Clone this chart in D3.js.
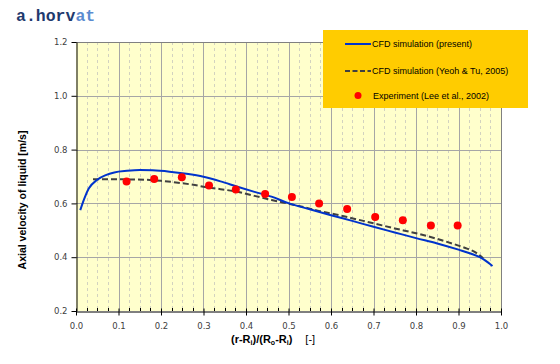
<!DOCTYPE html>
<html><head><meta charset="utf-8">
<script src="https://cdn.jsdelivr.net/npm/d3@7"></script>
<style>body{margin:0;background:#fff}svg{display:block}</style>
</head><body><svg id="c" width="560" height="364"></svg>
<script>
// ---- data ----
const presentX = [0.01,0.02,0.03,0.05,0.07,0.09,0.12,0.15,0.18,0.22,0.26,0.30,0.34,0.38,0.42,0.46,0.50,0.55,0.60,0.65,0.70,0.75,0.80,0.85,0.90,0.93,0.95,0.97,0.98];
const presentY = [0.575,0.620,0.655,0.688,0.705,0.715,0.721,0.724,0.723,0.718,0.710,0.699,0.682,0.662,0.643,0.625,0.601,0.578,0.556,0.535,0.513,0.492,0.471,0.451,0.428,0.413,0.400,0.380,0.367];
const yeohX = [0.04,0.08,0.12,0.16,0.20,0.24,0.28,0.30,0.34,0.38,0.42,0.46,0.50,0.54,0.574,0.62,0.66,0.70,0.75,0.80,0.85,0.90,0.92,0.94,0.958];
const yeohY = [0.690,0.690,0.689,0.688,0.684,0.677,0.668,0.662,0.653,0.643,0.628,0.613,0.599,0.585,0.571,0.556,0.541,0.526,0.507,0.489,0.468,0.443,0.432,0.418,0.396];
const expX = [0.119,0.184,0.249,0.313,0.376,0.445,0.508,0.572,0.638,0.704,0.769,0.835,0.898];
const expY = [0.681,0.691,0.697,0.667,0.652,0.635,0.624,0.600,0.579,0.549,0.537,0.518,0.518];
const xTicks = [0,0.1,0.2,0.3,0.4,0.5,0.6,0.7,0.8,0.9,1.0];
const yTicks = [0.2,0.4,0.6,0.8,1.0,1.2];
const legendLabels = ["CFD simulation (present)","CFD simulation (Yeoh & Tu, 2005)","Experiment (Lee et al., 2002)"];

const svg = d3.select("#c");
const L=76,R=501,T=42,B=311;
const x = d3.scaleLinear().domain([0,1]).range([L,R]);
const y = d3.scaleLinear().domain([0.2,1.2]).range([B,T]);

svg.append("rect").attr("x",L).attr("y",T).attr("width",R-L).attr("height",B-T).attr("fill","#FFFFCC");

// minor vertical grid (dashed)
const minor = d3.range(1,40).map(i=>i*0.025).filter(v=>Math.abs(v*10-Math.round(v*10))>1e-6);
svg.append("g").selectAll("line").data(minor).join("line")
  .attr("x1",d=>Math.round(x(d))+0.5).attr("x2",d=>Math.round(x(d))+0.5).attr("y1",T).attr("y2",B)
  .attr("stroke","#D2D2C0").attr("stroke-dasharray","3,3");
// major vertical grid
svg.append("g").selectAll("line").data(xTicks.slice(1,-1)).join("line")
  .attr("x1",d=>Math.round(x(d))+0.5).attr("x2",d=>Math.round(x(d))+0.5).attr("y1",T).attr("y2",B)
  .attr("stroke","#A6A6A6");
// horizontal grid
svg.append("g").selectAll("line").data(yTicks.slice(1,-1)).join("line")
  .attr("x1",L).attr("x2",R).attr("y1",d=>Math.round(y(d))+0.5).attr("y2",d=>Math.round(y(d))+0.5)
  .attr("stroke","#A6A6A6");
// top/right border
svg.append("line").attr("x1",L).attr("x2",R).attr("y1",T+0.5).attr("y2",T+0.5).attr("stroke","#808080");
svg.append("line").attr("x1",R+0.5).attr("x2",R+0.5).attr("y1",T).attr("y2",B).attr("stroke","#808080");

// axes
const xa = svg.append("g").attr("transform",`translate(0,${B+0.5})`)
  .call(d3.axisBottom(x).tickValues(xTicks).tickFormat(d3.format(".1f")).tickSize(4).tickSizeOuter(0));
xa.select(".domain").attr("stroke","#000");
xa.selectAll(".tick line").attr("y1",-3).attr("stroke","#000");
xa.selectAll("text").attr("font-family","DejaVu Sans").attr("font-size","8.5px").attr("fill","#404040").attr("dy","1.2em");
svg.append("g").selectAll("line").data(minor).join("line")
  .attr("x1",d=>Math.round(x(d))+0.5).attr("x2",d=>Math.round(x(d))+0.5).attr("y1",B-3).attr("y2",B)
  .attr("stroke","#000");

const ya = svg.append("g").attr("transform",`translate(${L+0.5},0)`)
  .call(d3.axisLeft(y).tickValues(yTicks).tickFormat(d3.format(".1f")).tickSize(5).tickSizeOuter(0));
ya.select(".domain").attr("stroke","#000");
ya.selectAll(".tick line").attr("stroke","#000");
ya.selectAll("text").attr("font-family","DejaVu Sans").attr("font-size","8.5px").attr("fill","#404040").attr("x",-9);

// series
const line = d3.line().x(d=>x(d[0])).y(d=>y(d[1])).curve(d3.curveMonotoneX);
svg.append("path").datum(yeohX.map((v,i)=>[v,yeohY[i]])).attr("d",line)
  .attr("fill","none").attr("stroke","#404040").attr("stroke-width",2).attr("stroke-dasharray","6,3");
svg.append("path").datum(presentX.map((v,i)=>[v,presentY[i]])).attr("d",line)
  .attr("fill","none").attr("stroke","#0033CC").attr("stroke-width",2);
svg.append("g").selectAll("circle").data(expX.map((v,i)=>[v,expY[i]])).join("circle")
  .attr("cx",d=>x(d[0])).attr("cy",d=>y(d[1])).attr("r",4).attr("fill","#FF0000");

// legend
const lg = svg.append("g");
lg.append("rect").attr("x",323).attr("y",30).attr("width",205).attr("height",78).attr("fill","#FFCC00");
const ly=[44,71,95.5];
lg.append("line").attr("x1",345).attr("x2",371).attr("y1",ly[0]).attr("y2",ly[0]).attr("stroke","#0033CC").attr("stroke-width",2);
lg.append("line").attr("x1",345).attr("x2",371).attr("y1",ly[1]).attr("y2",ly[1]).attr("stroke","#404040").attr("stroke-width",2).attr("stroke-dasharray","5,2.5");
lg.append("circle").attr("cx",358).attr("cy",ly[2]).attr("r",3.5).attr("fill","#FF0000");
lg.selectAll("text").data(legendLabels).join("text")
  .attr("x",(d,i)=>i==2?373:372).attr("y",(d,i)=>ly[i]).attr("dy","0.35em")
  .attr("font-family","Liberation Sans").attr("font-size","9px").attr("fill","#000").text(d=>d);

// title
const t = svg.append("text").attr("x",16).attr("y",21).attr("font-family","Liberation Mono").attr("font-weight","bold").attr("font-size","16.5px");
t.append("tspan").attr("fill","#1F3A6E").text("a.horv");
t.append("tspan").attr("fill","#5B8BD0").text("at");

// axis titles
svg.append("text").attr("transform","translate(26,200) rotate(-90)").attr("text-anchor","middle")
  .attr("font-family","Liberation Sans").attr("font-weight","bold").attr("font-size","10.5px").text("Axial velocity of liquid [m/s]");
const xl = svg.append("text").attr("x",231).attr("y",343).attr("font-family","Liberation Sans").attr("font-weight","bold").attr("font-size","11px");
xl.append("tspan").text("(r-R");
xl.append("tspan").attr("font-size","7px").attr("dy",2).text("i");
xl.append("tspan").attr("dy",-2).text(")/(R");
xl.append("tspan").attr("font-size","7px").attr("dy",2).text("o");
xl.append("tspan").attr("dy",-2).text("-R");
xl.append("tspan").attr("font-size","7px").attr("dy",2).text("i");
xl.append("tspan").attr("dy",-2).text(")");
xl.append("tspan").attr("font-weight","normal").attr("dx",13).text("[-]");
</script></body></html>
